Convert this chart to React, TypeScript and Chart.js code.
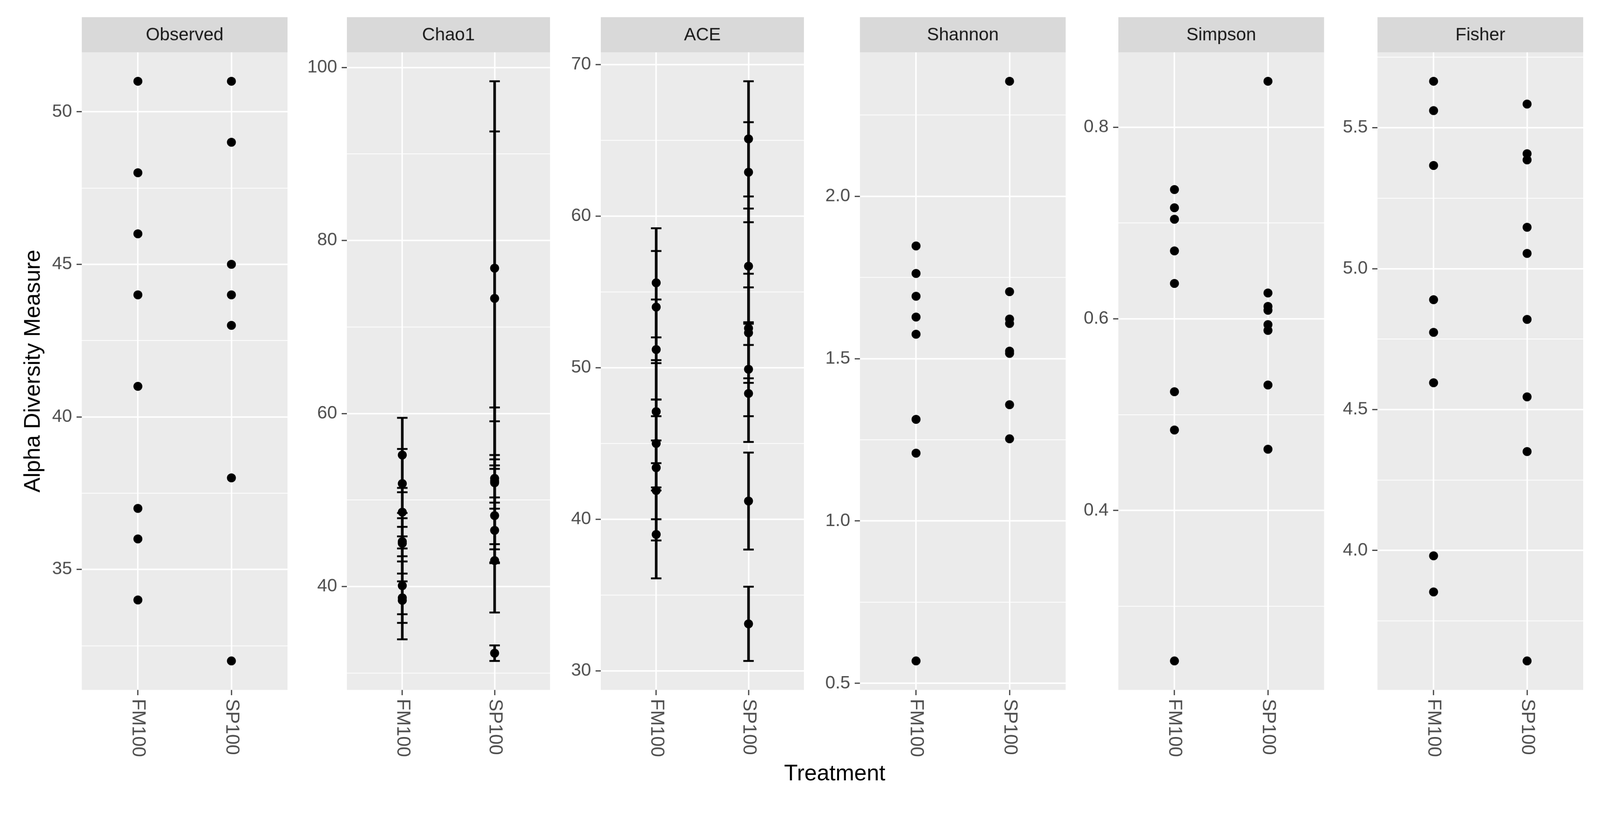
import React, { useEffect, useRef } from 'react';
import { Chart, registerables } from 'chart.js';

Chart.register(...registerables);

// ---------------- data ----------------
const categories = ['FM100', 'SP100'];

const observedFM100 = [51, 48, 46, 44, 41, 37, 36, 34];
const observedSP100 = [51, 49, 45, 44, 43, 38, 32];

const chao1FM100 = [55.2, 51.9, 48.6, 45.0, 45.2, 40.1, 38.4, 38.7];
const chao1FM100Se = [4.3, 4.0, 2.8, 3.5, 1.7, 4.3, 4.5, 1.9];
const chao1SP100 = [76.8, 73.3, 52.5, 52.0, 52.2, 48.2, 46.5, 43.0, 32.3];
const chao1SP100Se = [21.6, 19.3, 8.2, 7.1, 2.5, 5.4, 3.8, 6.0, 0.9];

const aceFM100 = [55.6, 54.0, 51.2, 47.1, 45.0, 43.4, 41.9, 39.0];
const aceFM100Se = [3.6, 3.7, 3.3, 3.4, 2.9, 3.4, 3.3, 2.9];
const aceSP100 = [65.1, 62.9, 56.7, 52.6, 52.3, 49.9, 48.3, 41.2, 33.1];
const aceSP100Se = [3.8, 3.3, 3.8, 3.6, 3.0, 3.1, 3.2, 3.2, 2.45];

const shannonFM100 = [1.847, 1.762, 1.692, 1.628, 1.575, 1.313, 1.209, 0.569];
const shannonSP100 = [2.354, 1.706, 1.622, 1.608, 1.523, 1.516, 1.358, 1.253];

const simpsonFM100 = [0.735, 0.716, 0.704, 0.671, 0.637, 0.524, 0.484, 0.243];
const simpsonSP100 = [0.848, 0.627, 0.613, 0.609, 0.594, 0.588, 0.531, 0.464];

const fisherFM100 = [5.665, 5.561, 5.366, 4.89, 4.774, 4.595, 3.981, 3.853];
const fisherSP100 = [5.584, 5.408, 5.386, 5.147, 5.054, 4.82, 4.545, 4.351, 3.608];

const panelTitles = ['Observed', 'Chao1', 'ACE', 'Shannon', 'Simpson', 'Fisher'];

const observedTicks = [35, 40, 45, 50];
const observedTickLabels = ['35', '40', '45', '50'];
const observedMinor = [32.5, 37.5, 42.5, 47.5];

const chao1Ticks = [40, 60, 80, 100];
const chao1TickLabels = ['40', '60', '80', '100'];
const chao1Minor = [30, 50, 70, 90];

const aceTicks = [30, 40, 50, 60, 70];
const aceTickLabels = ['30', '40', '50', '60', '70'];
const aceMinor = [35, 45, 55, 65];

const shannonTicks = [0.5, 1.0, 1.5, 2.0];
const shannonTickLabels = ['0.5', '1.0', '1.5', '2.0'];
const shannonMinor = [0.75, 1.25, 1.75, 2.25];

const simpsonTicks = [0.4, 0.6, 0.8];
const simpsonTickLabels = ['0.4', '0.6', '0.8'];
const simpsonMinor = [0.3, 0.5, 0.7];

const fisherTicks = [4.0, 4.5, 5.0, 5.5];
const fisherTickLabels = ['4.0', '4.5', '5.0', '5.5'];
const fisherMinor = [3.75, 4.25, 4.75, 5.25, 5.75];

const yTitle = 'Alpha Diversity Measure';
const xTitle = 'Treatment';

// ---------------- layout / style ----------------
const FONT = '"Liberation Sans", Arial, Helvetica, sans-serif';
const W = 4285;
const H = 2120;
const PANEL_W = 563;
const PLOT_TOP = 140;
const PLOT_BOTTOM = 1848;
const STRIP_TOP = 46;
const Y_W = 125;
const panelLefts = [219, 929, 1609, 2303, 2995, 3689];

type PanelDef = {
  title: string;
  groups: number[][];
  ses?: number[][];
  ticks: number[];
  tickLabels: string[];
  minor: number[];
};

const panels: PanelDef[] = [
  { title: panelTitles[0], groups: [observedFM100, observedSP100], ticks: observedTicks, tickLabels: observedTickLabels, minor: observedMinor },
  { title: panelTitles[1], groups: [chao1FM100, chao1SP100], ses: [chao1FM100Se, chao1SP100Se], ticks: chao1Ticks, tickLabels: chao1TickLabels, minor: chao1Minor },
  { title: panelTitles[2], groups: [aceFM100, aceSP100], ses: [aceFM100Se, aceSP100Se], ticks: aceTicks, tickLabels: aceTickLabels, minor: aceMinor },
  { title: panelTitles[3], groups: [shannonFM100, shannonSP100], ticks: shannonTicks, tickLabels: shannonTickLabels, minor: shannonMinor },
  { title: panelTitles[4], groups: [simpsonFM100, simpsonSP100], ticks: simpsonTicks, tickLabels: simpsonTickLabels, minor: simpsonMinor },
  { title: panelTitles[5], groups: [fisherFM100, fisherSP100], ticks: fisherTicks, tickLabels: fisherTickLabels, minor: fisherMinor },
];

function rangeOf(p: PanelDef): [number, number] {
  let lo = Infinity;
  let hi = -Infinity;
  p.groups.forEach((g, gi) => {
    g.forEach((v, j) => {
      const s = p.ses ? p.ses[gi][j] : 0;
      lo = Math.min(lo, v - s);
      hi = Math.max(hi, v + s);
    });
  });
  const pad = (hi - lo) * 0.05;
  return [lo - pad, hi + pad];
}

const panelPlugin = {
  id: 'ggPanel',
  beforeDraw(chart: any, _args: any, opts: any) {
    const { ctx, chartArea } = chart;
    ctx.save();
    ctx.fillStyle = '#EBEBEB';
    ctx.fillRect(chartArea.left, chartArea.top, chartArea.right - chartArea.left, chartArea.bottom - chartArea.top);
    ctx.fillStyle = '#D9D9D9';
    ctx.fillRect(chartArea.left, STRIP_TOP, chartArea.right - chartArea.left, chartArea.top - STRIP_TOP);
    ctx.fillStyle = '#1A1A1A';
    ctx.font = `48px ${FONT}`;
    ctx.textAlign = 'center';
    ctx.textBaseline = 'middle';
    ctx.fillText(opts.title, (chartArea.left + chartArea.right) / 2, (STRIP_TOP + chartArea.top) / 2 + 2);
    ctx.restore();
  },
  afterDraw(chart: any) {
    const { ctx, chartArea } = chart;
    const xs = chart.scales.x;
    ctx.save();
    ctx.fillStyle = '#4D4D4D';
    ctx.font = `50px ${FONT}`;
    ctx.textAlign = 'left';
    ctx.textBaseline = 'middle';
    categories.forEach((c, i) => {
      const px = xs.getPixelForValue(i);
      ctx.save();
      ctx.translate(px, chartArea.bottom + 24);
      ctx.rotate(Math.PI / 2);
      ctx.fillText(c, 0, 0);
      ctx.restore();
    });
    ctx.restore();
  },
};

function PanelChart({ panel, left }: { panel: PanelDef; left: number }) {
  const ref = useRef<HTMLCanvasElement>(null);
  useEffect(() => {
    const [ymin, ymax] = rangeOf(panel);
    const datasets: any[] = [];
    panel.groups.forEach((g, i) => {
      datasets.push({
        type: 'scatter',
        data: g.map((v) => ({ x: i, y: v })),
        pointRadius: 12,
        pointHoverRadius: 12,
        backgroundColor: '#000000',
        borderWidth: 0,
        order: 0,
      });
    });
    if (panel.ses) {
      panel.groups.forEach((g, i) => {
        const se = panel.ses![i];
        const caps: { x: number; y: number }[] = [];
        g.forEach((v, j) => {
          datasets.push({
            type: 'scatter',
            showLine: true,
            data: [
              { x: i, y: v - se[j] },
              { x: i, y: v + se[j] },
            ],
            borderColor: '#000000',
            borderWidth: 7,
            pointRadius: 0,
            order: 2,
          });
          caps.push({ x: i, y: v - se[j] }, { x: i, y: v + se[j] });
        });
        datasets.push({
          type: 'scatter',
          data: caps,
          pointStyle: 'line',
          pointRadius: 14,
          pointHoverRadius: 14,
          borderColor: '#000000',
          borderWidth: 5,
          order: 1,
        });
      });
    }
    const major = panel.ticks;
    const allTicks = [...panel.ticks, ...panel.minor].filter((v) => v >= ymin && v <= ymax).sort((a, b) => a - b);
    const isMajor = (v: number) => major.indexOf(v) >= 0;
    const chart = new Chart(ref.current as HTMLCanvasElement, {
      type: 'scatter',
      data: { datasets },
      plugins: [panelPlugin],
      options: {
        animation: false,
        responsive: false,
        events: [],
        layout: { padding: { top: PLOT_TOP, left: 0, right: 0, bottom: 0 } },
        plugins: {
          legend: { display: false },
          tooltip: { enabled: false },
          ggPanel: { title: panel.title },
        } as any,
        scales: {
          x: {
            type: 'linear',
            bounds: 'data',
            min: -0.6,
            max: categories.length - 1 + 0.6,
            afterBuildTicks: (s: any) => {
              s.ticks = categories.map((_, i) => ({ value: i }));
            },
            afterFit: (s: any) => {
              s.height = H - PLOT_BOTTOM;
            },
            ticks: { display: false },
            grid: {
              color: '#FFFFFF',
              lineWidth: 4,
              tickColor: '#333333',
              tickLength: 14,
              tickWidth: 3,
            },
            border: { display: false },
          },
          y: {
            type: 'linear',
            bounds: 'data',
            min: ymin,
            max: ymax,
            afterBuildTicks: (s: any) => {
              s.ticks = allTicks.map((v) => ({ value: v }));
            },
            afterFit: (s: any) => {
              s.width = Y_W;
            },
            ticks: {
              autoSkip: false,
              padding: 12,
              color: '#4D4D4D',
              font: { family: FONT, size: 48 },
              callback: (v: any) => {
                const k = major.indexOf(v);
                return k >= 0 ? panel.tickLabels[k] : '';
              },
            },
            grid: {
              color: '#FFFFFF',
              lineWidth: (c: any) => (c.tick && isMajor(c.tick.value) ? 4 : 2),
              tickColor: (c: any) => (c.tick && isMajor(c.tick.value) ? '#333333' : 'rgba(0,0,0,0)'),
              tickLength: 14,
              tickWidth: 3,
            },
            border: { display: false },
          },
        },
      } as any,
    });
    return () => chart.destroy();
  }, [panel]);
  return (
    <canvas
      ref={ref}
      width={Y_W + PANEL_W}
      height={H}
      style={{ position: 'absolute', left: left - Y_W, top: 0, width: Y_W + PANEL_W, height: H }}
    />
  );
}

export default function App() {
  const vw = typeof window !== 'undefined' ? window.innerWidth : W;
  const vh = typeof window !== 'undefined' ? window.innerHeight : H;
  const scale = Math.min(vw / W, vh / H, 1);
  return (
    <div
      style={{
        position: 'fixed',
        left: 0,
        top: 0,
        width: W,
        height: H,
        background: '#FFFFFF',
        overflow: 'hidden',
        fontFamily: FONT,
        transform: `scale(${scale})`,
        transformOrigin: '0 0',
      }}
    >
      {panels.map((p, i) => (
        <PanelChart key={p.title} panel={p} left={panelLefts[i]} />
      ))}
      <div
        style={{
          position: 'absolute',
          left: 86,
          top: (PLOT_TOP + PLOT_BOTTOM) / 2,
          transform: 'translate(-50%, -50%) rotate(-90deg)',
          whiteSpace: 'nowrap',
          fontSize: 60,
          color: '#000000',
          lineHeight: 1,
        }}
      >
        {yTitle}
      </div>
      <div
        style={{
          position: 'absolute',
          left: (panelLefts[0] + panelLefts[5] + PANEL_W) / 2,
          top: 2070,
          transform: 'translate(-50%, -50%)',
          whiteSpace: 'nowrap',
          fontSize: 60,
          color: '#000000',
          lineHeight: 1,
        }}
      >
        {xTitle}
      </div>
    </div>
  );
}
